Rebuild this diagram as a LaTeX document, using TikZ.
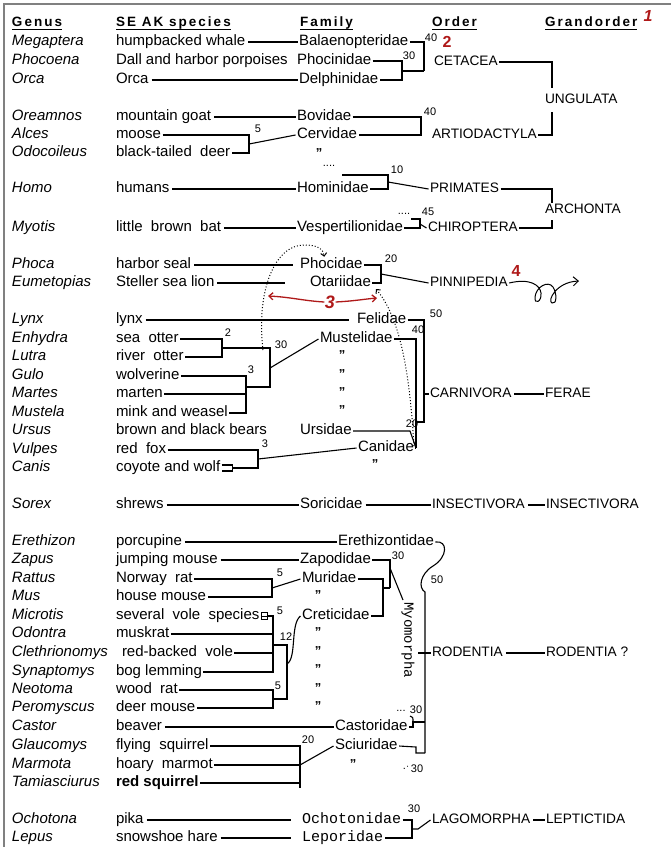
\documentclass[tikz,border=0pt]{standalone}
\usepackage{fontspec}
\setmainfont{Liberation Sans}
\newfontfamily\hdrfont[LetterSpace=15]{Liberation Sans}
\newfontfamily\handfont{Liberation Mono}
\usetikzlibrary{arrows.meta}
\definecolor{annored}{RGB}{175,25,25}
\tikzset{
  txt/.style={anchor=west, inner sep=1.5pt, outer sep=0pt, text height=10.5pt, text depth=3pt, font=\fontsize{15}{15}\selectfont},
  gen/.style={txt, font=\fontsize{15}{15}\selectfont\itshape},
  ord/.style={txt, font=\fontsize{13.7}{14}\selectfont},
  hand/.style={txt, font=\fontsize{15}{15}\selectfont\handfont},
  hdr/.style={txt, font=\fontsize{13.5}{14}\selectfont\hdrfont\bfseries},
  num/.style={inner sep=0pt, font=\fontsize{11}{11}\selectfont},
  anno/.style={inner sep=0pt, text=annored, font=\fontsize{16}{16}\selectfont\bfseries},
  dit/.style={inner sep=0pt, font=\fontsize{13}{13}\selectfont\bfseries},
  sl/.style={shorten <=1.5pt},
  dotln/.style={line width=1pt, dotted},
  frameln/.style={line width=1.5pt, draw=gray},
  redln/.style={line width=1.3pt, draw=annored},
}
\begin{document}
\begin{tikzpicture}[x=1pt,y=-1pt,line width=1.1pt]
\useasboundingbox (0,0) rectangle (671,847);
\fill[white] (0,0) rectangle (671,847);
\draw[frameln] (3,4) -- (671,4);
\draw[frameln] (4,4) -- (4,847);

% headers
\node[hdr] (h1) at (10.5,23) {Genus};
\node[hdr] (h2) at (114.5,23) {SE AK species};
\node[hdr] (h3) at (298.5,23) {Family};
\node[hdr] (h4) at (430.5,23) {Order};
\node[hdr] (h5) at (543.5,23) {Grandorder};
\foreach \h in {h1,h2,h3,h4,h5}
  \draw[line width=1pt] ([xshift=1.5pt,yshift=1.5pt]\h.south west) -- ([xshift=-1.5pt,yshift=1.5pt]\h.south east);
\node[anno, font=\fontsize{16}{16}\selectfont\bfseries\itshape] (n1) at (648,16) {1};

% genus column
\foreach \n/\y/\g in {meg/42/Megaptera, pho/61/Phocoena, orc/80/Orca, ore/117/Oreamnos, alc/135/Alces, odo/153/Odocoileus, hom/189/Homo, myo/228/Myotis, phc/265/Phoca, eum/283/Eumetopias, lyn/320/Lynx, enh/339/Enhydra, lut/357/Lutra, gul/376/Gulo, mar/394/Martes, mus/413/Mustela, urs/431/Ursus, vul/450/Vulpes, can/468/Canis, sor/505/Sorex, ere/542/Erethizon, zap/560/Zapus, rat/579/Rattus, mou/597/Mus, mic/616/Microtis, odt/634/Odontra, cle/653/Clethrionomys, syn/672/Synaptomys, neo/690/Neotoma, per/708/Peromyscus, cas/727/Castor, gla/746/Glaucomys, mam/765/Marmota, tam/783/Tamiasciurus, och/820/Ochotona, lep/838/Lepus}
  \node[gen] (g-\n) at (10.5,\y) {\g};

% species column
\foreach \n/\y/\spn in {meg/42/humpbacked whale, pho/61/Dall and harbor porpoises, orc/80/Orca, ore/117/mountain goat, alc/135/moose, odo/153/black-tailed\ \ deer, hom/189/humans, myo/228/little\ \ brown\ \ bat, phc/265/harbor seal, eum/283/Steller sea lion, lyn/320/lynx, enh/339/sea\ \ otter, lut/357/river\ \ otter, gul/376/wolverine, mar/394/marten, mus/413/mink and weasel, urs/431/brown and black bears, vul/450/red\ \ fox, can/468/coyote and wolf, sor/505/shrews, ere/542/porcupine, zap/560/jumping mouse, rat/579/Norway\ \ rat, mou/597/house mouse, mic/616/several\ \ vole\ \ species, odt/634/muskrat, syn/672/bog lemming, neo/690/wood\ \ rat, per/708/deer mouse, cas/727/beaver, gla/746/flying\ \ squirrel, mam/765/hoary\ \ marmot, och/820/pika, lep/838/snowshoe hare}
  \node[txt] (s-\n) at (114.5,\y) {\spn};
\node[txt] (s-cle) at (120.5,653) {red-backed\ \ vole};
\node[txt, font=\fontsize{15}{15}\selectfont\bfseries] (s-tam) at (114.5,783) {red squirrel};

% family column
\node[txt] (f-meg) at (297.5,42) {Balaenopteridae};
\node[txt] (f-pho) at (295.5,61) {Phocinidae};
\node[txt] (f-orc) at (297.5,80) {Delphinidae};
\node[txt] (f-bov) at (295.5,117) {Bovidae};
\node[txt] (f-cer) at (295.5,135) {Cervidae};
\node[txt] (f-hom) at (295.5,189) {Hominidae};
\node[txt] (f-ves) at (295.5,228) {Vespertilionidae};
\node[txt] (f-phc) at (298.5,265) {Phocidae};
\node[txt] (f-ota) at (308.5,283) {Otariidae};
\node[txt] (f-fel) at (355.5,320) {Felidae};
\node[txt] (f-mus) at (318.5,339) {Mustelidae};
\node[txt] (f-urs) at (298.5,431) {Ursidae};
\node[txt] (f-can) at (356.5,448) {Canidae};
\node[txt] (f-sor) at (298.5,505) {Soricidae};
\node[txt] (f-ere) at (336.5,542) {Erethizontidae};
\node[txt] (f-zap) at (298.5,560) {Zapodidae};
\node[txt] (f-mur) at (300.5,579) {Muridae};
\node[txt] (f-cre) at (300.5,616) {Creticidae};
\node[txt] (f-cas) at (333.5,727) {Castoridae};
\node[txt] (f-sci) at (333.5,746) {Sciuridae};
\node[hand] (f-och) at (300.5,820) {Ochotonidae};
\node[hand] (f-lep) at (300.5,838) {Leporidae};

% order column
\node[ord] (o-cet) at (432.5,62) {CETACEA};
\node[ord] (o-art) at (430.5,135) {ARTIODACTYLA};
\node[ord] (o-pri) at (428.5,189) {PRIMATES};
\node[ord] (o-chi) at (426.5,228) {CHIROPTERA};
\node[ord] (o-pin) at (428.5,283) {PINNIPEDIA};
\node[ord] (o-car) at (428.5,394) {CARNIVORA};
\node[ord] (o-ins) at (430.5,505) {INSECTIVORA};
\node[ord] (o-rod) at (430.5,653) {RODENTIA};
\node[ord] (o-lag) at (430.5,820) {LAGOMORPHA};

% grandorder column
\node[ord] (g-ung) at (543.5,100) {UNGULATA};
\node[ord] (g-arc) at (543.5,210) {ARCHONTA};
\node[ord] (g-fer) at (543.5,394) {FERAE};
\node[ord] (g-ins) at (544.5,505) {INSECTIVORA};
\node[ord] (g-rod) at (544.5,653) {RODENTIA ?};
\node[ord] (g-lep) at (544.5,820) {LEPTICTIDA};

% ---------- Cetacea / Ungulata
\draw[sl] (s-meg.east) -- (f-meg.west);
\draw[sl] (s-orc.east) -- (f-orc.west);
\coordinate (c-cet1) at (424,71);
\coordinate (c-cet2) at (402,71);
\draw (f-meg.east) -| (c-cet1);
\draw (f-pho.east) -| (c-cet2) |- (f-orc.east);
\draw (c-cet2) -- (c-cet1);
\node[num] (n-cet40) at (431,38) {40};
\node[anno] (n2) at (447,42) {2};
\node[num] (n-cet30) at (409,56) {30};
\coordinate (c-ung1) at (552,88);
\coordinate (c-ung2) at (552,112);
\draw (o-cet.east) -| (c-ung1);
\draw (c-ung2) |- (o-art.east);

% ---------- Artiodactyla
\draw[sl] (s-ore.east) -- (f-bov.west);
\coordinate (c-art) at (421,126);
\draw (f-bov.east) -| (c-art) |- (f-cer.east);
\node[num] (n-art40) at (430,112) {40};
\coordinate (c-alc) at (249,144);
\draw (s-alc.east) -| (c-alc) |- (s-odo.east);
\draw (c-alc) -- (f-cer.west);
\node[num] (n-alc5) at (258,129) {5};
\node[dit] (d-cer) at (319,153) {"};

% ---------- Primates / Chiroptera
\draw[sl] (s-hom.east) -- (f-hom.west);
\node[num] (dots-pri) at (329,166) {....};
\coordinate (c-pri0) at (342,175);
\coordinate (c-pri) at (388,182);
\draw (c-pri0) -| (c-pri) |- (f-hom.east);
\draw (c-pri) -- (o-pri.west);
\node[num] (n-pri10) at (397,170) {10};
\coordinate (c-arc1) at (552,203);
\coordinate (c-arc2) at (552,220);
\draw (o-pri.east) -| (c-arc1);
\draw (c-arc2) |- (o-chi.east);
\draw[sl] (s-myo.east) -- (f-ves.west);
\node[num] (dots-chi) at (404,214) {....};
\coordinate (c-chi0) at (411,219);
\coordinate (c-chi) at (420,224);
\draw (c-chi0) -| (c-chi) |- (f-ves.east);
\draw (c-chi) -- (o-chi.west);
\node[num] (n-chi45) at (428,212) {45};

% ---------- Pinnipedia
\draw[sl] (s-phc.east) -- ([xshift=-6pt]f-phc.west);
\coordinate (c-eum) at (285,283);
\draw[sl] (s-eum.east) -- (c-eum);
\coordinate (c-pin) at (381,274);
\draw (f-phc.east) -| (c-pin) |- (f-ota.east);
\draw (c-pin) -- (o-pin.west);
\node[num] (n-pin20) at (391,259) {20};
\node[anno] (n4) at (516,271) {4};
\draw[line width=1pt, -{Straight Barb[length=5pt,width=9pt]}] (o-pin.east) .. controls (530,278) and (540,285) .. (541,293) .. controls (542,302) and (534,305) .. (535,297) .. controls (536,287) and (548,280) .. (553,287) .. controls (557,293) and (557,305) .. (552,303) .. controls (547,301) and (556,282) .. (579,281);
% dotted migration arrows
\coordinate (c-d1) at (263,350);
\draw[dotln, -{Straight Barb[length=3pt,width=6pt]}] (c-d1) .. controls (256,290) and (275,245) .. (304,245) .. controls (318,245) and (323,249) .. ([xshift=-7pt]f-phc.north);
\coordinate (c-d2) at (414,446);
\coordinate (c-d2e) at (376,289);
\draw[dotln, -{Straight Barb[length=3pt,width=6pt]}] (c-d2) .. controls (410,380) and (402,320) .. (c-d2e);
% red arrow 3
\node[anno, font=\fontsize{18}{18}\selectfont\bfseries\itshape] (n3) at (330,302) {3};
\coordinate (c-r3a) at (268,296);
\coordinate (c-r3b) at (377,298);
\draw[redln, -{Straight Barb[length=4pt,width=7pt]}] (n3.west) .. controls (305,301) and (290,297) .. (c-r3a);
\draw[redln, -{Straight Barb[length=4pt,width=7pt]}] (n3.east) .. controls (355,301) and (365,299) .. (c-r3b);

% ---------- Carnivora
\draw[sl] (s-lyn.east) -- ([xshift=-7pt]f-fel.west);
\coordinate (c-fer1) at (424,422);
\coordinate (c-fer2) at (416,422);
\coordinate (c-car) at (416,448);
\coordinate (c-car2) at (424,394);
\coordinate (c-urs) at (410,431);
\draw (f-fel.east) -| (c-fer1) -- (c-fer2);
\draw (f-mus.east) -| (c-car);
\draw (f-urs.east) -- (c-urs) -- (c-car);
\draw (f-can.east) -- (c-car);
\draw (c-car2) -- (o-car.west);
\draw[sl] (o-car.east) -- (g-fer.west);
\node[num] (n-car50) at (436,314) {50};
\node[num] (n-car40) at (418,330) {40};
\node[num] (n-car20) at (412,424) {20};
% mustelids
\coordinate (c-enh) at (222,348);
\coordinate (c-mst) at (270,348);
\coordinate (c-mst2) at (270,387);
\coordinate (c-gul) at (246,387);
\coordinate (c-gulb) at (246,394);
\coordinate (c-mst3) at (270,368);
\draw (s-enh.east) -| (c-enh) |- (s-lut.east);
\draw (c-enh) -- (c-mst) -- (c-mst2) -- (c-gul);
\draw (s-gul.east) -| (c-gulb) |- (s-mus.east);
\draw (s-mar.east) -- (c-gulb);
\draw (c-mst3) -- (f-mus.west);
\node[num] (n-enh2) at (228,333) {2};
\node[num] (n-gul3) at (251,370) {3};
\node[num] (n-mst30) at (281,345) {30};
\node[dit] (d-mus1) at (342,355) {"};
\node[dit] (d-mus2) at (342,374) {"};
\node[dit] (d-mus3) at (342,392) {"};
\node[dit] (d-mus4) at (342,410) {"};
% canids
\coordinate (c-can) at (258,459);
\draw (s-vul.east) -| (c-can);
\draw ([yshift=3pt]s-can.east) -- ([xshift=11pt,yshift=3pt]s-can.east) |- ([yshift=-3pt]s-can.east);
\draw ([xshift=11pt]s-can.east) -| (c-can);
\draw (c-can) -- (f-can.west);
\node[num] (n-can3) at (265,444) {3};
\node[dit] (d-can) at (375,464) {"};

% ---------- Insectivora
\draw[sl] (s-sor.east) -- (f-sor.west);
\draw[sl] (f-sor.east) -- (o-ins.west);
\draw[sl] (o-ins.east) -- (g-ins.west);

% ---------- Rodentia
\draw[sl] (s-ere.east) -- (f-ere.west);
\coordinate (c-rod1) at (425,592);
\coordinate (c-rod2) at (425,753);
\coordinate (c-rod3) at (418,653);
\draw (f-ere.east) .. controls (448,540) and (448,557) .. (433,566) .. controls (420,574) and (418,588) .. (c-rod1) -- (c-rod2);
\node[num] (n-rod50) at (437,580) {50};
\draw (c-rod3) -- (o-rod.west);
\draw[sl] (o-rod.east) -- (g-rod.west);
% myomorpha
\draw[sl] (s-zap.east) -- (f-zap.west);
\coordinate (c-myo) at (390,588);
\coordinate (c-mur) at (383,588);
\coordinate (c-myo2) at (390,568);
\coordinate (c-myo3) at (403,600);
\draw (f-zap.east) -| (c-myo);
\draw (f-mur.east) -| (c-mur) |- (f-cre.east);
\draw (c-mur) -- (c-myo);
\draw (c-myo2) -- (c-myo3);
\node[num] (n-zap30) at (398,556) {30};
\node[inner sep=0pt, rotate=-90, font=\fontsize{14}{14}\selectfont\handfont] (t-myo) at (408,640) {Myomorpha};
% rats
\coordinate (c-rat) at (272,588);
\draw (s-rat.east) -| (c-rat) |- (s-mou.east);
\draw (c-rat) -- (f-mur.west);
\node[num] (n-rat5) at (280,573) {5};
\node[dit] (d-mur) at (318,595) {"};
% voles
\node[draw, line width=0.6pt, inner sep=0pt, minimum width=6pt, minimum height=7pt, anchor=west] (box) at ([xshift=0.5pt]s-mic.east) {};
\draw[line width=0.6pt] (box.west) -- (box.east);
\coordinate (c-vol1) at (273,672);
\draw (box.east) -| (c-vol1) -- (s-syn.east);
\draw (s-odt.east) -- (s-odt.east -| c-vol1);
\draw (s-cle.east) -- (s-cle.east -| c-vol1);
\coordinate (c-neo) at (273,699);
\draw (s-neo.east) -| (c-neo) |- (s-per.east);
\coordinate (c-12a) at (287,645);
\coordinate (c-12b) at (287,699);
\coordinate (c-12c) at (287,664);
\draw (c-12a -| c-vol1) -- (c-12a) -- (c-12b) -- (c-neo);
\draw (c-12c) .. controls (297,658) and (290,624) .. (f-cre.west);
\node[num] (n-mic5) at (280,611) {5};
\node[num] (n-neo5) at (278,686) {5};
\node[num] (n-12) at (286,637) {12};
\node[dit] (d-cre1) at (318,632) {"};
\node[dit] (d-cre2) at (318,651) {"};
\node[dit] (d-cre3) at (318,669) {"};
\node[dit] (d-cre4) at (318,688) {"};
\node[dit] (d-cre5) at (318,706) {"};
% castor
\draw[sl] (s-cas.east) -- (f-cas.west);
\coordinate (c-cas1) at (413,727);
\coordinate (c-cas2) at (413,722);
\coordinate (c-cas0) at (410,716);
\draw (f-cas.east) -- (c-cas1) -- (c-cas2) -- (c-cas2 -| c-rod2);
\draw (c-cas0) .. controls (413,717) .. (c-cas2);
\node[num] (dots-cas) at (401,711) {...};
\node[num] (n-cas30) at (416,710) {30};
% squirrels
\coordinate (c-sci) at (300,765);
\coordinate (c-sci2) at (300,788);
\draw (s-gla.east) -| (c-sci2);
\draw (s-mam.east) -- (c-sci);
\draw (s-tam.east) -- (s-tam.east -| c-sci);
\draw (c-sci) -- (f-sci.west);
\node[num] (n-sci20) at (308,740) {20};
\coordinate (c-sci3) at (416,747);
\coordinate (c-sci4) at (416,753);
\draw (f-sci.east) -- (c-sci3) -- (c-sci4) -- (c-rod2);
\node[num] (dots-sci) at (406,767) {.$\cdot$};
\node[num] (n-sci30) at (417,769) {30};
\node[dit] (d-sci) at (353,764) {"};

% ---------- Lagomorpha
\draw[sl] (s-och.east) -- ([xshift=-10pt]f-och.west);
\draw[sl] (s-lep.east) -- ([xshift=-10pt]f-lep.west);
\coordinate (c-lagb) at (412,829);
\coordinate (c-lag) at (418,829);
\draw (f-och.east) -| (c-lagb) |- (f-lep.east);
\draw (c-lagb) -- (c-lag) -- (o-lag.west);
\draw[sl] (o-lag.east) -- (g-lep.west);
\node[num] (n-lag30) at (414,809) {30};
\end{tikzpicture}
\end{document}
